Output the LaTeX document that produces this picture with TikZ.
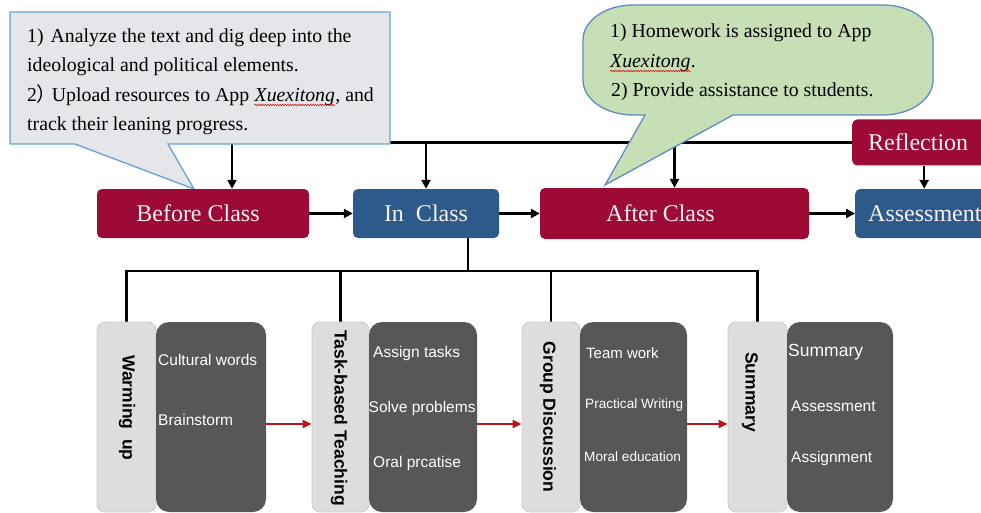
\documentclass[tikz,border=0pt]{standalone}
\usepackage{fontspec}
\setmainfont{Liberation Serif}
\setsansfont{Liberation Sans}
\newfontfamily\cjkfont{Noto Sans CJK SC}
\usetikzlibrary{arrows.meta,decorations.pathmorphing,calc}
\definecolor{crim}{RGB}{158,10,54}
\definecolor{navy}{RGB}{44,90,138}
\definecolor{callgray}{RGB}{228,230,233}
\definecolor{callblue}{RGB}{106,159,216}
\definecolor{callgreen}{RGB}{198,223,181}
\definecolor{greenedge}{RGB}{94,139,196}
\definecolor{lightbox}{RGB}{221,221,221}
\definecolor{lightedge}{RGB}{205,205,205}
\definecolor{darkbox}{RGB}{87,87,87}
\definecolor{redarrow}{RGB}{178,24,30}
\definecolor{boxtext}{RGB}{248,240,242}
\pgfdeclarelayer{lines}
\pgfdeclarelayer{calls}
\pgfsetlayers{lines,calls,main}
\begin{document}
\begin{tikzpicture}[x=1pt,y=-1pt,
  redbox/.style={rounded corners=5pt, fill=crim, text=boxtext, inner ysep=0pt,
    font=\fontsize{24}{28}\selectfont},
  bluebox/.style={rounded corners=5pt, fill=navy, text=boxtext, inner ysep=0pt,
    font=\fontsize{24}{28}\selectfont},
  conn/.style={line width=2.5pt, black, line join=miter},
  arr/.style={line width=2.3pt, black, -{Triangle[length=9pt,width=9pt]}},
  rarr/.style={line width=2pt, redarrow, -{Triangle[length=9pt,width=8pt]}},
  lcall/.style={fill=callgray, draw=callblue, line width=1.3pt},
  gcall/.style={fill=callgreen, draw=greenedge, line width=1.3pt},
  ctext/.style={inner sep=0pt, anchor=base west, font=\fontsize{19.8}{24}\selectfont},
  squig/.style={red!85!black, line width=0.5pt, decorate,
    decoration={snake, amplitude=0.7pt, segment length=2.5pt}},
  lbox/.style={fill=lightbox, draw=lightedge, line width=0.8pt, rounded corners=8pt,
    minimum width=58pt, minimum height=190pt, inner sep=0pt},
  dbox/.style={fill=darkbox, rounded corners=13pt, minimum height=190pt, inner sep=0pt},
  vlabel/.style={rotate=-90, inner sep=0pt, font=\sffamily\bfseries\fontsize{17.5}{20}\selectfont},
  itemtext/.style={anchor=west, inner sep=0pt, text=white, font=\sffamily\fontsize{15.5}{18}\selectfont},
  smalltext/.style={anchor=west, inner sep=0pt, text=white, font=\sffamily\fontsize{13.6}{16}\selectfont}
]
\useasboundingbox (0,0) rectangle (981,513);
\clip (0,0) rectangle (981,513);

% ---------- top row boxes ----------
\node[redbox, minimum width=212pt, minimum height=49pt] (bc) at (203,213.5) {\kern-10pt Before Class};
\node[bluebox, minimum width=146pt, minimum height=49pt] (ic) at (426,213.5) {In\ \ Class};
\node[redbox, minimum width=269pt, minimum height=51pt] (ac) at (674.5,213.5) {\kern-28pt After Class};
\node[redbox, anchor=west, minimum height=46pt, text width=112pt, inner xsep=16pt, align=left] (rf) at (852,142.5) {Reflection};
\node[bluebox, anchor=west, minimum height=49pt, text width=125pt, inner xsep=13pt, align=left] (as) at (855,213.5) {Assessment};

% ---------- bottom row boxes ----------
\node[lbox, minimum width=59pt] (wl) at (126.5,417) {};
\node[dbox, minimum width=110pt] (wd) at (211,417) {};
\node[lbox, minimum width=57pt] (tl) at (340.5,417) {};
\node[dbox, minimum width=108pt] (td) at (423,417) {};
\node[lbox, minimum width=58pt] (gl) at (551,417) {};
\node[dbox, minimum width=107pt] (gd) at (633.5,417) {};
\node[lbox, minimum width=59pt] (sl) at (757.5,417) {};
\node[dbox, minimum width=106pt] (sd) at (840,417) {};

\node[vlabel] (wlab) at (127,408) {Warming\ \ up};
\node[vlabel] (tlab) at (339,418) {Task-based Teaching};
\node[vlabel] (glab) at (548,417) {Group Discussion};
\node[vlabel] (slab) at (750,392) {Summary};

\node[itemtext] (w1) at (158,360) {Cultural words};
\node[itemtext] (w2) at (158,420) {Brainstorm};
\node[itemtext] (t1) at (373,353) {Assign tasks};
\node[itemtext] (t2) at (368.5,408) {Solve problems};
\node[itemtext] (t3) at (373,463) {Oral prcatise};
\node[itemtext, font=\sffamily\fontsize{15}{18}\selectfont] (g1) at (586,353) {Team work};
\node[smalltext] (g2) at (585,405) {Practical Writing};
\node[smalltext] (g3) at (584,457) {Moral education};
\node[itemtext, font=\sffamily\fontsize{17.5}{20}\selectfont] (s1) at (788,352) {Summary};
\node[itemtext] (s2) at (791,406) {Assessment};
\node[itemtext] (s3) at (791,458) {Assignment};

% ---------- callout texts ----------
\node[ctext] (l1) at (27,43) {1)\kern7pt Analyze the text and dig deep into the};
\node[ctext] (l2) at (27,72) {ideological and political elements.};
\node[ctext] (l3a) at (27,102) {2\kern-1pt{\cjkfont ）}\kern-4pt Upload resources to App\kern5pt};
\node[ctext, font=\fontsize{19.8}{24}\selectfont\itshape] (l3b) at (l3a.base east) {Xuexitong};
\node[ctext] (l3c) at (l3b.base east) {, and};
\node[ctext] (l4) at (27,131) {track their leaning progress.};

\node[ctext] (r1) at (610,38) {1) Homework is assigned to App};
\node[ctext, font=\fontsize{19.8}{24}\selectfont\itshape] (r2a) at (610,68) {Xuexitong};
\node[ctext] (r2b) at (r2a.base east) {.};
\node[ctext] (r3) at (611,97) {2) Provide assistance to students.};

\draw[squig] ([yshift=-3pt]l3b.base west) -- ([yshift=-3pt]l3b.base east);
\draw[squig] ([yshift=-3pt]r2a.base west) -- ([yshift=-3pt]r2a.base east);

% ---------- callout shapes ----------
\begin{pgfonlayer}{calls}
\draw[lcall] (10,12) -- (390,12) -- (390,144) -- (168,144) -- (194,189) -- (75,144) -- (10,144) -- cycle;
\draw[gcall, line join=miter] (583,40)
  arc[start angle=180, end angle=90, x radius=50pt, y radius=35pt]
  -- (883,5)
  arc[start angle=90, end angle=0, x radius=50pt, y radius=35pt]
  -- (933,80)
  arc[start angle=0, end angle=-90, x radius=50pt, y radius=35pt]
  -- (733,115) -- (605,185) -- (645,115)
  -- (633,115)
  arc[start angle=270, end angle=180, x radius=50pt, y radius=35pt]
  -- cycle;
\end{pgfonlayer}

% ---------- connectors ----------
\begin{pgfonlayer}{lines}
\coordinate (topL) at (232,142.5);
\coordinate (bus) at (468,271);
\coordinate (ry) at (0,424);
\draw[conn] (topL) -- (rf.west);
\draw[arr] (topL) -- (topL |- bc.north);
\draw[arr] (ic.north |- topL) -- (ic.north);
\draw[arr] (ac.north |- topL) -- (ac.north);
\draw[arr] (rf.south) -- (rf.south |- as.north);
\draw[arr] (bc.east) -- (ic.west);
\draw[arr] (ic.east) -- (ac.west);
\draw[arr] (ac.east) -- (as.west);
\draw[conn] (ic.south -| bus) -- (bus);
\draw[conn] (wl.north) |- (sl.north |- bus) -- (sl.north);
\draw[conn] (tl.north) -- (tl.north |- bus);
\draw[conn] (gl.north) -- (gl.north |- bus);
\draw[rarr] (wd.east |- ry) -- (tl.west |- ry);
\draw[rarr] (td.east |- ry) -- (gl.west |- ry);
\draw[rarr] (gd.east |- ry) -- (sl.west |- ry);
\end{pgfonlayer}
\end{tikzpicture}
\end{document}
